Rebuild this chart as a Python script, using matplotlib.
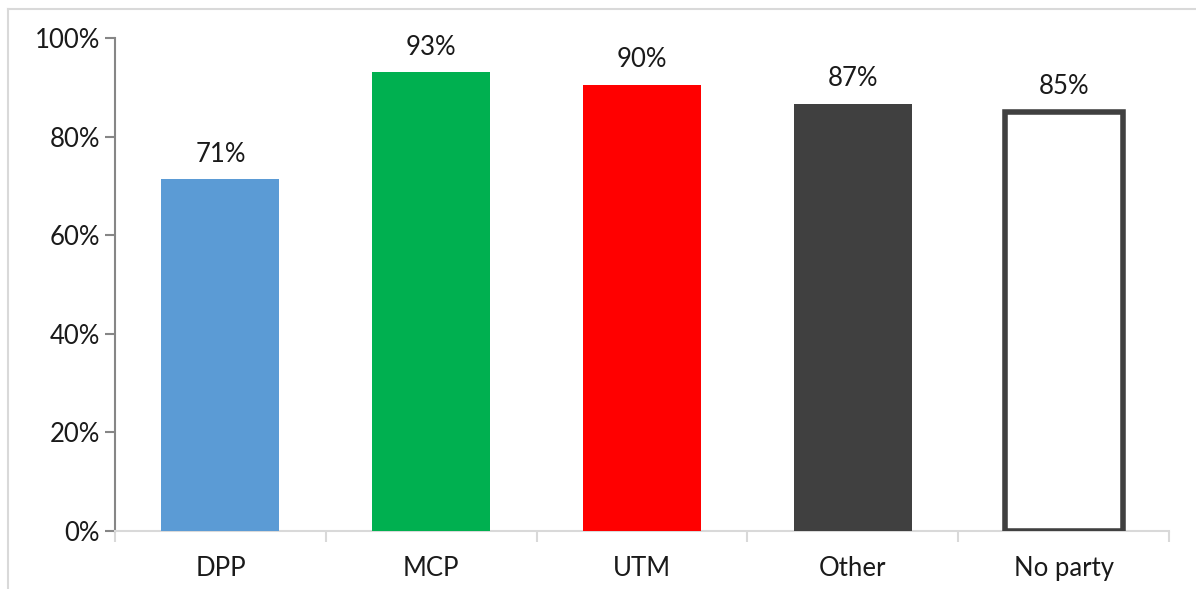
import matplotlib.pyplot as plt
from matplotlib.lines import Line2D
from matplotlib.ticker import FuncFormatter

parties = ["DPP", "MCP", "UTM", "Other", "No party"]
support = [71.3, 93.0, 90.4, 86.7, 85.0]
labels = ["71%", "93%", "90%", "87%", "85%"]
fills = ["#5b9bd5", "#00b050", "#ff0000", "#404040", "white"]

plt.rcParams['font.family'] = ['Lato', 'DejaVu Sans']

fig = plt.figure(figsize=(11.96, 5.89), dpi=100)
ax = fig.add_axes([0.0962, 0.099, 0.8812, 0.8365])

x = list(range(len(parties)))
for i, (v, c) in enumerate(zip(support, fills)):
    if c == "white":
        ax.bar(i, v, width=0.56, color="white", edgecolor="#404040",
               linewidth=4, zorder=3)
    else:
        ax.bar(i, v, width=0.56, color=c, zorder=3)
    ax.text(i, v + 2.6, labels[i], ha="center", va="bottom", fontsize=18.5,
            color="#1a1a1a")

ax.set_xlim(-0.5, len(parties) - 0.5)
ax.set_ylim(0, 100)
ax.set_yticks(range(0, 101, 20))
ax.yaxis.set_major_formatter(FuncFormatter(lambda v, p: f"{int(v)}%"))
ax.set_xticks(x)
ax.set_xticklabels(parties)
ax.set_xticks([i - 0.5 for i in range(len(parties) + 1)], minor=True)

for s in ["top", "right"]:
    ax.spines[s].set_visible(False)
ax.spines["left"].set_color("#868686")
ax.spines["left"].set_linewidth(1.5)
ax.spines["bottom"].set_color("#d9d9d9")
ax.spines["bottom"].set_linewidth(1.5)

ax.tick_params(axis="y", length=7, width=1.5, color="#868686",
               labelsize=18.5, labelcolor="#1a1a1a", pad=4)
ax.tick_params(axis="x", which="major", length=0, labelsize=18.5,
               labelcolor="#1a1a1a", pad=18)
ax.tick_params(axis="x", which="minor", length=8, width=1.5, color="#d9d9d9")

# chart area border (top and left edges visible)
fig.add_artist(Line2D([0.007, 1.0], [0.985, 0.985], color="#d9d9d9",
                      linewidth=1.5, transform=fig.transFigure))
fig.add_artist(Line2D([0.007, 0.007], [0.0, 0.985], color="#d9d9d9",
                      linewidth=1.5, transform=fig.transFigure))

fig.savefig("out.png", dpi=100)
